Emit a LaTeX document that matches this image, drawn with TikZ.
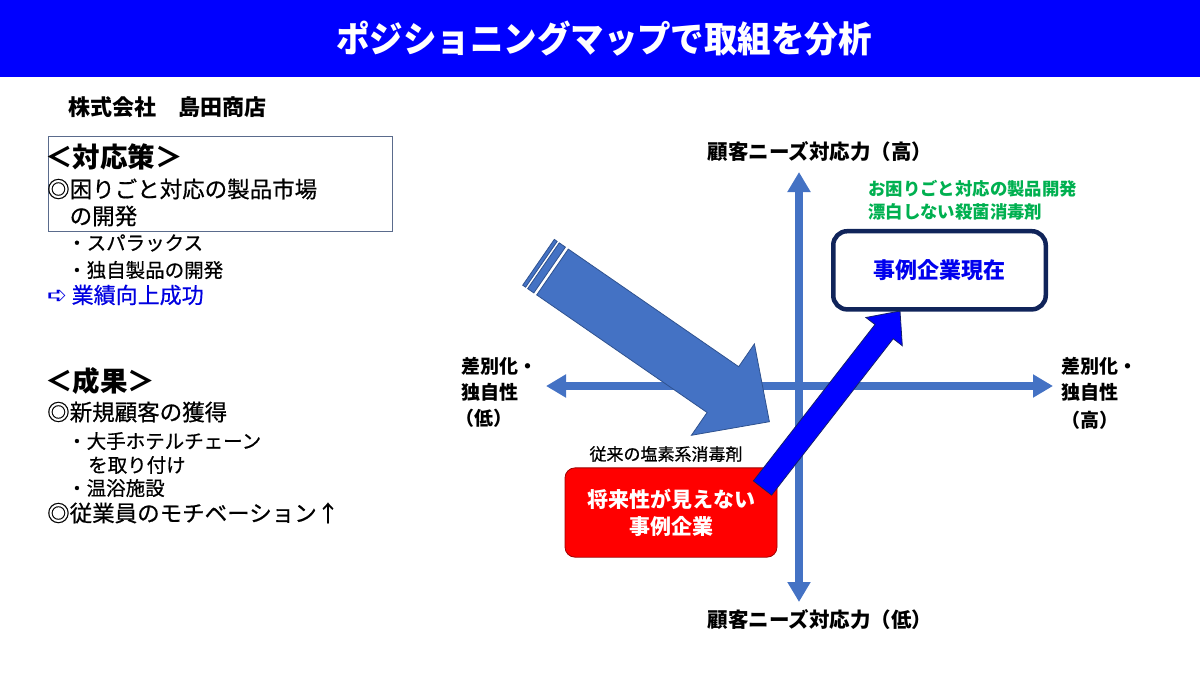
\documentclass[tikz,border=0pt]{standalone}
\usepackage{fontspec}
\usepackage{graphicx}
\setmainfont{Noto Sans CJK JP}
\newfontfamily\dejavu{DejaVu Sans}
\usetikzlibrary{arrows.meta}
\newcommand\fsz[1]{\fontsize{#1}{#1}\selectfont}
\newcommand\medw{\addfontfeature{FakeBold=0.6}}
\definecolor{titleblue}{HTML}{0000FF}
\definecolor{axisblue}{HTML}{4472C4}
\definecolor{axisdark}{HTML}{2F528F}
\definecolor{navybox}{HTML}{10245A}
\definecolor{nowtext}{HTML}{0000EE}
\definecolor{greentext}{HTML}{00B050}
\definecolor{oldred}{HTML}{FF0000}
\definecolor{oldredline}{HTML}{A00000}
\definecolor{planline}{HTML}{5A6B8C}
\definecolor{resulttext}{HTML}{0000E0}
\definecolor{arrowblue}{HTML}{0000FF}
\definecolor{arrowblueline}{HTML}{13206B}
\tikzset{
  txt/.style={inner sep=0pt, anchor=west},
  head/.style={txt, font=\bfseries\fsz{27.5}},
  item/.style={txt, font=\fsz{22.5}\medw},
  sub/.style={txt, font=\fsz{19.5}\medw},
  axislbl/.style={txt, font=\bfseries\fsz{19}},
  axis/.style={draw=axisblue, line width=7.5pt,
    {Triangle[length=20pt,width=22pt]}-{Triangle[length=20pt,width=22pt]}},
  bigarrow/.style={fill=axisblue, draw=axisdark, line width=0.8pt, line join=miter},
  blockarrow/.style={fill=arrowblue, draw=arrowblueline, line width=0.8pt, line join=miter},
}
\begin{document}
\begin{tikzpicture}[x=1pt,y=-1pt]
\useasboundingbox (0,0) rectangle (1200,678);
% title bar
\fill[titleblue] (0,0) rectangle (1200,77);
\node[text=white, font=\bfseries\fsz{36}, inner sep=0pt] (title) at (604,39)
  {\scalebox{0.93}[1]{ポジショニングマップで取組を分析}};

% left column
\node[txt, font=\bfseries\fsz{22}] (company) at (68,107) {株式会社　島田商店};
\node[draw=planline, line width=0.9pt, minimum width=343.7pt, minimum height=95.3pt,
      anchor=north west, inner sep=0pt] (planbox) at (48,135.7) {};
\node[head] (plan) at (45,157) {＜対応策＞};
\node[item] (p1) at (47,189) {◎困りごと対応の製品市場};
\node[item] (p1b) at (69.5,216) {の開発};
\node[sub] (p2) at (67,243) {・スパラックス};
\node[sub] (p3) at (67,270) {・独自製品の開発};
\node[txt, font=\fsz{22}\medw, text=resulttext] (p4) at (47,295)
  {\makebox[24.5pt][l]{\dejavu\fontsize{24}{24}\selectfont ➪}業績向上成功};
\node[head] (res) at (45,381) {＜成果＞};
\node[item] (r1) at (47,412) {◎新規顧客の獲得};
\node[sub] (r2) at (67,441) {・大手ホテルチェーン};
\node[sub] (r2b) at (88,465) {を取り付け};
\node[sub] (r3) at (67,488) {・温浴施設};
\node[item] (r4) at (47,513) {◎従業員のモチベーション↑};

% axes
\coordinate (ytop) at (799,172);
\coordinate (ybot) at (799,602);
\coordinate (xl) at (546,386);
\coordinate (xr) at (1053,386);
\draw[axis] (ybot) -- (ytop);
\draw[axis] (xl) -- (xr);

% axis labels
\node[inner sep=0pt, font=\bfseries\fsz{20.5}] (lblhigh) at (820,152) {顧客ニーズ対応力（高）};
\node[inner sep=0pt, font=\bfseries\fsz{20.5}] (lbllow) at (820,620) {顧客ニーズ対応力（低）};
\node[axislbl] (ll1) at (461,366) {差別化・};
\node[axislbl] (ll2) at (461,392) {独自性};
\node[axislbl] (ll3) at (455,418) {（低）};
\node[axislbl] (rl1) at (1061,366) {差別化・};
\node[axislbl] (rl2) at (1061,392) {独自性};
\node[axislbl] (rl3) at (1061,420) {（高）};

% big striped arrow
\draw[bigarrow] (536.7,294.9) -- (707.1,412.5) -- (691.4,435.3) -- (769.4,421.7)
  -- (754.4,343.9) -- (738.7,366.7) -- (568.3,249.1) -- cycle;
\draw[bigarrow] (533.82,292.91) -- (527.65,288.65) -- (559.25,242.85) -- (565.42,247.11) -- cycle;
\draw[bigarrow] (525.6,287.2) -- (522.7,285.2) -- (554.3,239.4) -- (557.2,241.4) -- cycle;

% red box
\node[rounded corners=10pt, fill=oldred, draw=oldredline, line width=0.8pt,
      minimum width=212pt, minimum height=89.3pt, inner sep=0pt,
      text=white, font=\bfseries\fontsize{21}{27}\selectfont, align=center] (old) at (671,512.5)
      {将来性が見えない\\事例企業};
\node[inner sep=0pt, font=\fsz{17}\medw] (oldlbl) at (666,454) {従来の塩素系消毒剤};

% blue block arrow from old to now
\draw[blockarrow] (753.4,480.9) -- (875.0,324.5) -- (865.9,317.5) -- (900,311)
  -- (902.3,345.7) -- (893.2,338.7) -- (771.6,495.1) -- cycle;

% current box
\node[rounded corners=14pt, draw=navybox, line width=4.5pt, fill=white,
      minimum width=212.5pt, minimum height=78.2pt, inner sep=0pt,
      text=nowtext, font=\bfseries\fsz{22}] (now) at (939.5,270.3) {事例企業現在};
\node[txt, font=\bfseries\fsz{17.4}, text=greentext] (g1) at (868,189) {お困りごと対応の製品開発};
\node[txt, font=\bfseries\fsz{17.4}, text=greentext] (g2) at (868,212) {漂白しない殺菌消毒剤};
\end{tikzpicture}
\end{document}
